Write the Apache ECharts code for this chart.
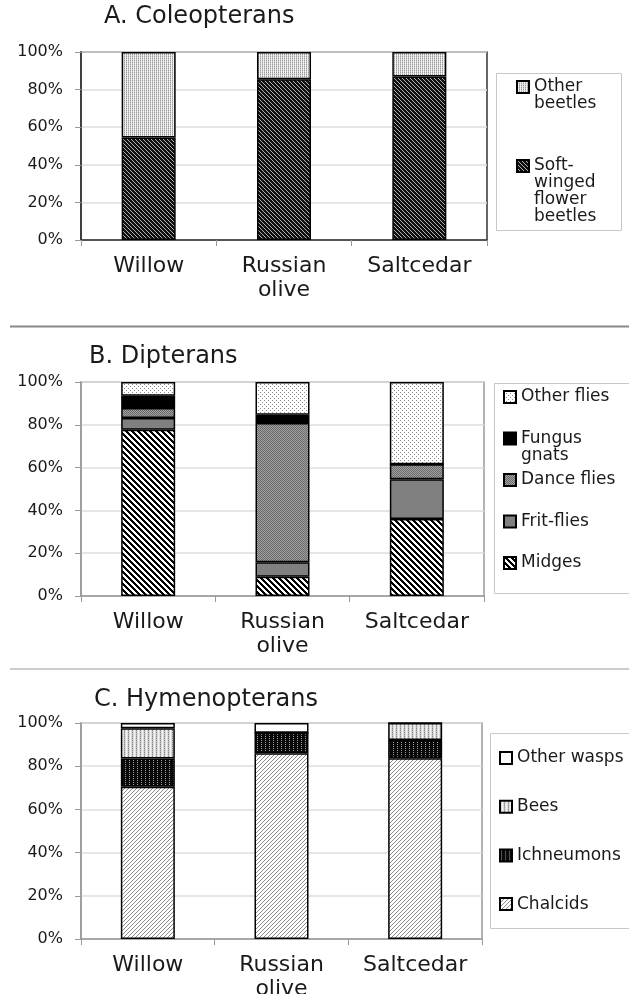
<!DOCTYPE html>
<html><head><meta charset="utf-8">
<script src="https://cdn.jsdelivr.net/npm/echarts@6/dist/echarts.min.js"></script>
<style>html,body{margin:0;padding:0;background:#fff}#c{width:629px;height:994px}</style>
</head><body><div id="c"></div>
<script>
// ---- data ----
const categories = ['Willow', 'Russian\nolive', 'Saltcedar'];
const yMin = 0, yMax = 100, yStep = 20;
// Panel A. Coleopterans
const softWinged = [54.5, 85.5, 87.0];
const otherBeetles = [45.5, 14.5, 13.0];
// Panel B. Dipterans
const midges = [77.7, 9.0, 36.0];
const fritFlies = [5.5, 6.8, 18.6];
const danceFlies = [4.6, 65.0, 7.0];
const fungusGnats = [5.8, 3.9, 0];
const otherFlies = [6.4, 15.3, 38.4];
// Panel C. Hymenopterans
const chalcids = [70.5, 86.0, 83.7];
const ichneumons = [13.1, 9.5, 8.4];
const bees = [14.0, 0, 7.9];
const otherWasps = [2.4, 4.5, 0];

// ---- patterns ----
function makePattern(n, fn) {
  const c = document.createElement('canvas'); c.width = n; c.height = n;
  const ctx = c.getContext('2d');
  for (let y = 0; y < n; y++) for (let x = 0; x < n; x++) { ctx.fillStyle = fn(x, y); ctx.fillRect(x, y, 1, 1); }
  return { image: c, repeat: 'repeat' };
}
const pSoft = makePattern(4, (x, y) => ((x - y + 8) % 4 === 0 ? '#b0b0b0' : '#111'));
const pOtherBeetles = makePattern(4, (x, y) => (x % 2 === 0 ? (y % 2 === 0 ? '#999' : '#c8c8c8') : '#f0f0f0'));
const pMidges = makePattern(6, (x, y) => ((x - y + 12) % 6 < 3 ? '#000' : '#fff'));
const pDance = makePattern(2, (x, y) => ((x + y) % 2 === 0 ? '#6a6a6a' : '#a0a0a0'));
const pOtherFlies = makePattern(4, (x, y) => (((x === 0 && y === 0) || (x === 2 && y === 2)) ? '#8a8a8a' : '#fff'));
const pChalcids = makePattern(4, (x, y) => ((x + y) % 4 === 0 ? '#8a8a8a' : '#fff'));
const pIchn = makePattern(4, (x, y) => (x % 4 === 1 && y % 2 === 0 ? '#999' : '#0a0a0a'));
const pBees = makePattern(4, (x, y) => (x % 4 === 0 ? (y % 2 === 0 ? '#888' : '#bbb') : (x % 4 === 2 ? '#f2f2f2' : '#dcdcdc')));

const FONT = 'DejaVu Sans';
const TXT = '#1a1a1a';

const grids = [
  { left: 81, top: 52, width: 406, height: 188, frame: '#333' },
  { left: 81, top: 382, width: 403, height: 214, frame: '#999' },
  { left: 81, top: 723, width: 401, height: 216, frame: '#999' }
];

function xAx(i) {
  return {
    type: 'category', gridIndex: i, data: categories,
    axisLine: { lineStyle: { color: grids[i].frame, width: 1.5 } },
    axisTick: { show: true, length: 6, lineStyle: { color: '#999' } },
    axisLabel: { interval: 0, hideOverlap: false, fontFamily: FONT, fontSize: 22, color: TXT, lineHeight: 24, margin: 14 }
  };
}
function yAx(i) {
  return {
    type: 'value', gridIndex: i, min: yMin, max: yMax, interval: yStep,
    axisLine: { show: true, lineStyle: { color: grids[i].frame, width: 1.5 } },
    axisTick: { show: true, length: 6, lineStyle: { color: '#999' } },
    axisLabel: { fontFamily: FONT, fontSize: 16, color: TXT, margin: 18, formatter: '{value}%' },
    splitLine: { show: true, lineStyle: { color: '#dedede', width: 1.5 } }
  };
}
function bar(name, data, fill, i, stack) {
  return {
    name, type: 'bar', stack, data, xAxisIndex: i, yAxisIndex: i, barWidth: 54,
    itemStyle: { color: fill, borderColor: '#000', borderWidth: 1.5 },
    emphasis: { disabled: true }
  };
}
// legend labels: leading blank lines keep the icon level with the first text line
const legendNames = {
  'Other beetles': '\nOther\nbeetles',
  'Soft-winged flower beetles': '\n\n\nSoft-\nwinged\nflower\nbeetles',
  'Other flies': '\nOther flies\n',
  'Fungus gnats': '\nFungus\ngnats',
  'Dance flies': '\nDance flies\n',
  'Frit-flies': '\nFrit-flies\n',
  'Midges': '\nMidges\n'
};
function leg(data, left, top, gap) {
  return {
    orient: 'vertical', left, top, padding: 0, itemGap: gap, itemWidth: 12, itemHeight: 12,
    icon: 'rect', data, selectedMode: false,
    formatter: n => legendNames[n] || n,
    textStyle: { fontFamily: FONT, fontSize: 17, lineHeight: 17, color: TXT }
  };
}
const titleStyle = { fontFamily: FONT, fontSize: 24, fontWeight: 'normal', color: TXT };
const boxStyle = { fill: 'none', stroke: '#c8c8c8', lineWidth: 1 };

const option = {
  animation: false,
  backgroundColor: '#fff',
  title: [
    { text: 'A. Coleopterans', left: 104, top: 4.5, padding: 0, textStyle: titleStyle },
    { text: 'B. Dipterans', left: 89, top: 345, padding: 0, textStyle: titleStyle },
    { text: 'C. Hymenopterans', left: 94, top: 688, padding: 0, textStyle: titleStyle }
  ],
  grid: grids.map(g => ({
    left: g.left, top: g.top, width: g.width, height: g.height,
    containLabel: false, outerBoundsMode: 'none',
    show: true, borderColor: g.frame, borderWidth: 1.5, backgroundColor: '#fff'
  })),
  xAxis: [xAx(0), xAx(1), xAx(2)],
  yAxis: [yAx(0), yAx(1), yAx(2)],
  legend: [
    leg(['Other beetles', 'Soft-winged flower beetles'], 516, 61.5, -6),
    leg(['Other flies', 'Fungus gnats', 'Dance flies', 'Frit-flies', 'Midges'], 503, 371.5, -9.5),
    leg(['Other wasps', 'Bees', 'Ichneumons', 'Chalcids'], 499, 749.5, 31.7)
  ],
  series: [
    bar('Soft-winged flower beetles', softWinged, pSoft, 0, 'A'),
    bar('Other beetles', otherBeetles, pOtherBeetles, 0, 'A'),
    bar('Midges', midges, pMidges, 1, 'B'),
    bar('Frit-flies', fritFlies, '#808080', 1, 'B'),
    bar('Dance flies', danceFlies, pDance, 1, 'B'),
    bar('Fungus gnats', fungusGnats, '#000', 1, 'B'),
    bar('Other flies', otherFlies, pOtherFlies, 1, 'B'),
    bar('Chalcids', chalcids, pChalcids, 2, 'C'),
    bar('Ichneumons', ichneumons, pIchn, 2, 'C'),
    bar('Bees', bees, pBees, 2, 'C'),
    bar('Other wasps', otherWasps, '#fff', 2, 'C')
  ],
  graphic: [
    { type: 'line', shape: { x1: 10, y1: 326.5, x2: 629, y2: 326.5 }, style: { stroke: '#888', lineWidth: 2 } },
    { type: 'line', shape: { x1: 10, y1: 669, x2: 629, y2: 669 }, style: { stroke: '#ccc', lineWidth: 2 } },
    { type: 'rect', shape: { x: 496.5, y: 73.5, width: 125, height: 157 }, style: boxStyle, z: -1 },
    { type: 'rect', shape: { x: 494.5, y: 383.5, width: 145, height: 210 }, style: boxStyle, z: -1 },
    { type: 'rect', shape: { x: 490.5, y: 733.5, width: 150, height: 195 }, style: boxStyle, z: -1 }
  ]
};
const chart = echarts.init(document.getElementById('c'));
chart.setOption(option);
</script>
</body></html>
